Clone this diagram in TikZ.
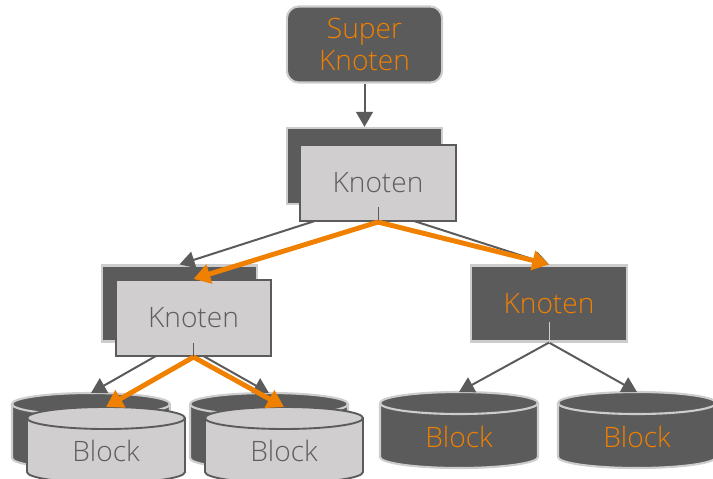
\documentclass[tikz,border=0pt]{standalone}
\usepackage{fontspec}
\setmainfont{Open Sans Light}
\usetikzlibrary{arrows.meta}

\definecolor{dunkel}{HTML}{5B5B5B}
\definecolor{hellgrau}{HTML}{D0CECF}
\definecolor{rand}{HTML}{CDCDCD}
\definecolor{orangeA}{HTML}{F08000}
\definecolor{textgrau}{HTML}{5E5E5E}

\tikzset{
  knoten/.style={draw=rand, line width=1.8pt, fill=dunkel, text=orangeA,
    minimum width=4.66cm, minimum height=2.28cm, inner sep=0pt,
    font=\fontsize{24}{27.3}\selectfont},
  hell/.style={knoten, draw=dunkel, fill=hellgrau, text=textgrau},
  zyldunkel/.style={draw=rand, fill=dunkel, line width=1.8pt},
  zylhell/.style={draw=dunkel, fill=hellgrau, line width=1.6pt},
  blocktext/.style={font=\fontsize{24}{28}\selectfont, text=textgrau},
  pfeil/.style={draw=dunkel, line width=1.7pt, -{Triangle[length=0.45cm,width=0.5cm]}},
  pfad/.style={draw=orangeA, line width=4.2pt, -{Triangle[length=0.5cm,width=0.58cm]}},
  stub/.style={draw=dunkel, line width=0.8pt},
}

% cylinder: name of top point, x, y of top, style
\newcommand{\zylinder}[4]{%
  \draw[#4] (#2-79,#3-11) -- (#2-79,#3-65)
    arc[start angle=180,end angle=360,x radius=79,y radius=11]
    -- (#2+79,#3-11)
    arc[start angle=0,end angle=180,x radius=79,y radius=11] -- cycle;
  \draw[#4,fill=none] (#2-79,#3-11) arc[start angle=180,end angle=360,x radius=79,y radius=11];
  \coordinate (#1) at (#2,#3);
}

\begin{document}
\begin{tikzpicture}[x=0.03cm,y=0.03cm]
\useasboundingbox (0,0) rectangle (713,-478);

% super node
\node[knoten, rounded corners=0.36cm, align=center] (super) at (364.5,-44.5) {Super\\Knoten};

% back nodes
\node[knoten] (obenhinten) at (364.5,-166) {};
\node[knoten] (linkshinten) at (179.5,-303.5) {};
\node[knoten] (rechts) at (549,-303.5) {Knoten};

\draw[pfeil] (super) -- (obenhinten);

% back blocks
\zylinder{blockAh}{91}{-393}{zyldunkel}
\zylinder{blockBh}{269}{-393}{zyldunkel}
\zylinder{blockC}{459}{-392}{zyldunkel}
\zylinder{blockD}{637}{-392}{zyldunkel}
\node[blocktext, text=orangeA] (textC) at (459,-437) {Block};
\node[blocktext, text=orangeA] (textD) at (637,-437) {Block};

% gray edges
\draw[pfeil] (obenhinten.south) -- (linkshinten.north);
\draw[pfeil] (obenhinten.south) -- (rechts.north);
\draw[pfeil] (linkshinten.south) -- (blockAh);
\draw[pfeil] (linkshinten.south) -- (blockBh);
\draw[pfeil] (rechts.south) -- (blockC);
\draw[pfeil] (rechts.south) -- (blockD);

% front nodes
\node[hell] (oben) at (378,-183) {Knoten};
\node[hell] (links) at (193.5,-318) {Knoten};
\draw[stub] ([yshift=0.45cm]oben.south) -- (oben.south);
\draw[stub] ([yshift=0.42cm]links.south) -- (links.south);
\draw[stub, draw=rand] ([yshift=0.63cm]rechts.south) -- (rechts.south);

% front blocks
\zylinder{blockA}{106}{-407}{zylhell}
\zylinder{blockB}{284}{-407}{zylhell}
\node[blocktext] (textA) at (106,-451) {Block};
\node[blocktext] (textB) at (284,-451) {Block};

% orange path
\draw[pfad] (oben.south) -- (links.north);
\draw[pfad] (oben.south) -- (rechts.north);
\draw[pfad] (links.south) -- (blockA);
\draw[pfad] (links.south) -- (blockB);
\end{tikzpicture}
\end{document}
